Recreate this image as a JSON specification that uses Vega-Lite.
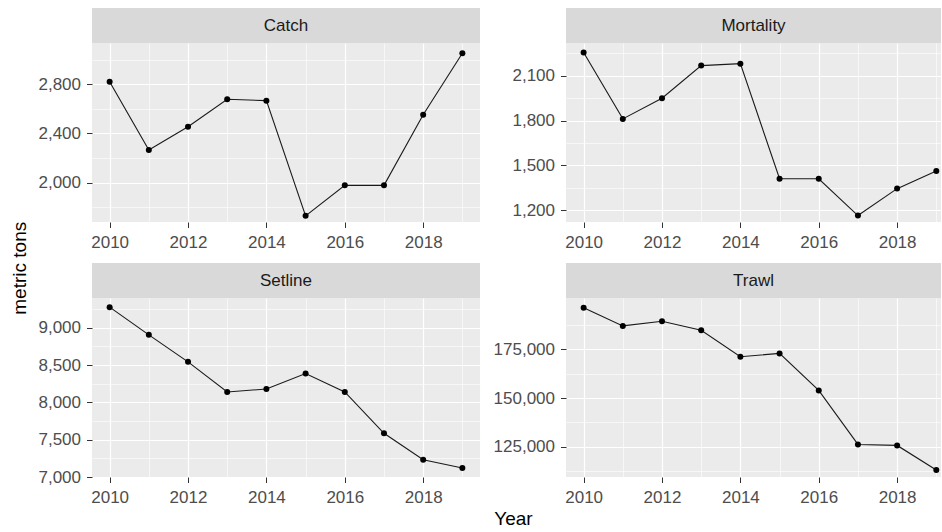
{
  "$schema": "https://vega.github.io/schema/vega-lite/v6.json",
  "padding": {"left": 10, "top": 8, "right": 0, "bottom": 0},
  "background": "white",
  "title": {"text": "metric tons", "orient": "left", "anchor": "middle", "fontSize": 19, "fontWeight": "normal", "color": "black", "font": "Liberation Sans", "offset": 8},
  "datasets": {
    "series": [
      {"Panel": "Catch", "Year": 2010, "Value": 2820},
      {"Panel": "Catch", "Year": 2011, "Value": 2265},
      {"Panel": "Catch", "Year": 2012, "Value": 2455},
      {"Panel": "Catch", "Year": 2013, "Value": 2678},
      {"Panel": "Catch", "Year": 2014, "Value": 2667},
      {"Panel": "Catch", "Year": 2015, "Value": 1730},
      {"Panel": "Catch", "Year": 2016, "Value": 1978},
      {"Panel": "Catch", "Year": 2017, "Value": 1978},
      {"Panel": "Catch", "Year": 2018, "Value": 2552},
      {"Panel": "Catch", "Year": 2019, "Value": 3052},
      {"Panel": "Mortality", "Year": 2010, "Value": 2255},
      {"Panel": "Mortality", "Year": 2011, "Value": 1811},
      {"Panel": "Mortality", "Year": 2012, "Value": 1949},
      {"Panel": "Mortality", "Year": 2013, "Value": 2167},
      {"Panel": "Mortality", "Year": 2014, "Value": 2180},
      {"Panel": "Mortality", "Year": 2015, "Value": 1411},
      {"Panel": "Mortality", "Year": 2016, "Value": 1411},
      {"Panel": "Mortality", "Year": 2017, "Value": 1165},
      {"Panel": "Mortality", "Year": 2018, "Value": 1345},
      {"Panel": "Mortality", "Year": 2019, "Value": 1462},
      {"Panel": "Setline", "Year": 2010, "Value": 9277},
      {"Panel": "Setline", "Year": 2011, "Value": 8906},
      {"Panel": "Setline", "Year": 2012, "Value": 8544},
      {"Panel": "Setline", "Year": 2013, "Value": 8140},
      {"Panel": "Setline", "Year": 2014, "Value": 8180},
      {"Panel": "Setline", "Year": 2015, "Value": 8387},
      {"Panel": "Setline", "Year": 2016, "Value": 8140},
      {"Panel": "Setline", "Year": 2017, "Value": 7586},
      {"Panel": "Setline", "Year": 2018, "Value": 7232},
      {"Panel": "Setline", "Year": 2019, "Value": 7120},
      {"Panel": "Trawl", "Year": 2010, "Value": 196300},
      {"Panel": "Trawl", "Year": 2011, "Value": 187000},
      {"Panel": "Trawl", "Year": 2012, "Value": 189400},
      {"Panel": "Trawl", "Year": 2013, "Value": 184800},
      {"Panel": "Trawl", "Year": 2014, "Value": 171200},
      {"Panel": "Trawl", "Year": 2015, "Value": 172900},
      {"Panel": "Trawl", "Year": 2016, "Value": 153900},
      {"Panel": "Trawl", "Year": 2017, "Value": 126200},
      {"Panel": "Trawl", "Year": 2018, "Value": 125700},
      {"Panel": "Trawl", "Year": 2019, "Value": 113100}
    ],
    "panels": [
      {"Panel": "Catch"},
      {"Panel": "Mortality"},
      {"Panel": "Setline"},
      {"Panel": "Trawl"}
    ]
  },
  "data": {"name": "series"},
  "vconcat": [
    {
      "title": {"text": "Year", "orient": "bottom", "anchor": "middle", "fontSize": 19, "fontWeight": "normal", "color": "black", "font": "Liberation Sans", "offset": 4, "dx": 24},
      "hconcat": [
        {
          "spacing": 12,
          "vconcat": [
            {
              "spacing": 0,
              "vconcat": [
                {
                  "width": 388, "height": 35,
                  "view": {"fill": "#d9d9d9", "stroke": null},
                  "data": {"name": "panels"},
                  "transform": [{"filter": "datum.Panel == 'Catch'"}],
                  "mark": {"type": "text", "fontSize": 17, "color": "#1a1a1a", "font": "Liberation Sans"},
                  "encoding": {"text": {"field": "Panel"}}
                },
                {
                  "width": 388, "height": 179,
                  "view": {"fill": "#ebebeb", "stroke": null},
                  "transform": [{"filter": "datum.Panel == 'Catch'"}],
                  "encoding": {
                    "x": {"field": "Year", "type": "quantitative",
                      "scale": {"domain": [2009.55, 2019.45], "nice": false, "zero": false},
                      "axis": {"title": null, "labelPadding": 7, "values": [2010, 2011, 2012, 2013, 2014, 2015, 2016, 2017, 2018, 2019],
                        "labelExpr": "datum.value % 2 == 0 ? format(datum.value, 'd') : ''",
                        "tickOpacity": {"condition": {"test": "datum.value % 2 == 1", "value": 0}, "value": 1},
                        "gridWidth": {"condition": {"test": "datum.value % 2 == 1", "value": 0.6}, "value": 1.2}}},
                    "y": {"field": "Value", "type": "quantitative",
                      "scale": {"domain": [1680, 3136], "nice": false, "zero": false},
                      "axis": {"title": null, "values": [1800, 2000, 2200, 2400, 2600, 2800, 3000],
                        "labelExpr": "datum.value % 400 == 0 ? format(datum.value, ',') : ''",
                        "tickOpacity": {"condition": {"test": "datum.value % 400 != 0", "value": 0}, "value": 1},
                        "gridWidth": {"condition": {"test": "datum.value % 400 != 0", "value": 0.6}, "value": 1.2}}}
                  },
                  "layer": [
                    {"mark": {"type": "line", "color": "#1a1a1a", "strokeWidth": 1.1}, "encoding": {}},
                    {"mark": {"type": "circle", "size": 36, "color": "black", "opacity": 1}}
                  ]
                }
              ]
            },
            {
              "spacing": 0,
              "vconcat": [
                {
                  "width": 388, "height": 35,
                  "view": {"fill": "#d9d9d9", "stroke": null},
                  "data": {"name": "panels"},
                  "transform": [{"filter": "datum.Panel == 'Setline'"}],
                  "mark": {"type": "text", "fontSize": 17, "color": "#1a1a1a", "font": "Liberation Sans"},
                  "encoding": {"text": {"field": "Panel"}}
                },
                {
                  "width": 388, "height": 179,
                  "view": {"fill": "#ebebeb", "stroke": null},
                  "transform": [{"filter": "datum.Panel == 'Setline'"}],
                  "encoding": {
                    "x": {"field": "Year", "type": "quantitative",
                      "scale": {"domain": [2009.55, 2019.45], "nice": false, "zero": false},
                      "axis": {"title": null, "labelPadding": 7, "values": [2010, 2011, 2012, 2013, 2014, 2015, 2016, 2017, 2018, 2019],
                        "labelExpr": "datum.value % 2 == 0 ? format(datum.value, 'd') : ''",
                        "tickOpacity": {"condition": {"test": "datum.value % 2 == 1", "value": 0}, "value": 1},
                        "gridWidth": {"condition": {"test": "datum.value % 2 == 1", "value": 0.6}, "value": 1.2}}},
                    "y": {"field": "Value", "type": "quantitative",
                      "scale": {"domain": [7000, 9400], "nice": false, "zero": false},
                      "axis": {"title": null, "values": [7000, 7250, 7500, 7750, 8000, 8250, 8500, 8750, 9000, 9250],
                        "labelExpr": "datum.value % 500 == 0 ? format(datum.value, ',') : ''",
                        "tickOpacity": {"condition": {"test": "datum.value % 500 != 0", "value": 0}, "value": 1},
                        "gridWidth": {"condition": {"test": "datum.value % 500 != 0", "value": 0.6}, "value": 1.2}}}
                  },
                  "layer": [
                    {"mark": {"type": "line", "color": "#1a1a1a", "strokeWidth": 1.1}, "encoding": {}},
                    {"mark": {"type": "circle", "size": 36, "color": "black", "opacity": 1}}
                  ]
                }
              ]
            }
          ]
        },
        {
          "spacing": 12,
          "vconcat": [
            {
              "spacing": 0,
              "vconcat": [
                {
                  "width": 375, "height": 35,
                  "view": {"fill": "#d9d9d9", "stroke": null},
                  "data": {"name": "panels"},
                  "transform": [{"filter": "datum.Panel == 'Mortality'"}],
                  "mark": {"type": "text", "fontSize": 17, "color": "#1a1a1a", "font": "Liberation Sans"},
                  "encoding": {"text": {"field": "Panel"}}
                },
                {
                  "width": 375, "height": 179,
                  "view": {"fill": "#ebebeb", "stroke": null},
                  "transform": [{"filter": "datum.Panel == 'Mortality'"}],
                  "encoding": {
                    "x": {"field": "Year", "type": "quantitative",
                      "scale": {"domain": [2009.55, 2019.12], "nice": false, "zero": false},
                      "axis": {"title": null, "labelPadding": 7, "values": [2010, 2011, 2012, 2013, 2014, 2015, 2016, 2017, 2018, 2019],
                        "labelExpr": "datum.value % 2 == 0 ? format(datum.value, 'd') : ''",
                        "tickOpacity": {"condition": {"test": "datum.value % 2 == 1", "value": 0}, "value": 1},
                        "gridWidth": {"condition": {"test": "datum.value % 2 == 1", "value": 0.6}, "value": 1.2}}},
                    "y": {"field": "Value", "type": "quantitative",
                      "scale": {"domain": [1122, 2318], "nice": false, "zero": false},
                      "axis": {"title": null, "values": [1200, 1350, 1500, 1650, 1800, 1950, 2100, 2250],
                        "labelExpr": "datum.value % 300 == 0 ? format(datum.value, ',') : ''",
                        "tickOpacity": {"condition": {"test": "datum.value % 300 != 0", "value": 0}, "value": 1},
                        "gridWidth": {"condition": {"test": "datum.value % 300 != 0", "value": 0.6}, "value": 1.2}}}
                  },
                  "layer": [
                    {"mark": {"type": "line", "color": "#1a1a1a", "strokeWidth": 1.1}, "encoding": {}},
                    {"mark": {"type": "circle", "size": 36, "color": "black", "opacity": 1}}
                  ]
                }
              ]
            },
            {
              "spacing": 0,
              "vconcat": [
                {
                  "width": 375, "height": 35,
                  "view": {"fill": "#d9d9d9", "stroke": null},
                  "data": {"name": "panels"},
                  "transform": [{"filter": "datum.Panel == 'Trawl'"}],
                  "mark": {"type": "text", "fontSize": 17, "color": "#1a1a1a", "font": "Liberation Sans"},
                  "encoding": {"text": {"field": "Panel"}}
                },
                {
                  "width": 375, "height": 179,
                  "view": {"fill": "#ebebeb", "stroke": null},
                  "transform": [{"filter": "datum.Panel == 'Trawl'"}],
                  "encoding": {
                    "x": {"field": "Year", "type": "quantitative",
                      "scale": {"domain": [2009.55, 2019.12], "nice": false, "zero": false},
                      "axis": {"title": null, "labelPadding": 7, "values": [2010, 2011, 2012, 2013, 2014, 2015, 2016, 2017, 2018, 2019],
                        "labelExpr": "datum.value % 2 == 0 ? format(datum.value, 'd') : ''",
                        "tickOpacity": {"condition": {"test": "datum.value % 2 == 1", "value": 0}, "value": 1},
                        "gridWidth": {"condition": {"test": "datum.value % 2 == 1", "value": 0.6}, "value": 1.2}}},
                    "y": {"field": "Value", "type": "quantitative",
                      "scale": {"domain": [109500, 201300], "nice": false, "zero": false},
                      "axis": {"title": null, "values": [112500, 125000, 137500, 150000, 162500, 175000, 187500],
                        "labelExpr": "datum.value % 25000 == 0 ? format(datum.value, ',') : ''",
                        "tickOpacity": {"condition": {"test": "datum.value % 25000 != 0", "value": 0}, "value": 1},
                        "gridWidth": {"condition": {"test": "datum.value % 25000 != 0", "value": 0.6}, "value": 1.2}}}
                  },
                  "layer": [
                    {"mark": {"type": "line", "color": "#1a1a1a", "strokeWidth": 1.1}, "encoding": {}},
                    {"mark": {"type": "circle", "size": 36, "color": "black", "opacity": 1}}
                  ]
                }
              ]
            }
          ]
        }
      ],
      "spacing": 13
    }
  ],
  "config": {
    "font": "Liberation Sans",
    "axis": {
      "domain": false,
      "gridColor": "white",
      "gridOpacity": 1,
      "tickColor": "#333333",
      "tickSize": 5.5,
      "tickWidth": 1,
      "labelColor": "#4d4d4d",
      "labelFont": "Liberation Sans",
      "labelFontSize": 17,
      "labelOverlap": false,
      "labelFlush": false,
      "labelPadding": 6
    }
  }
}
